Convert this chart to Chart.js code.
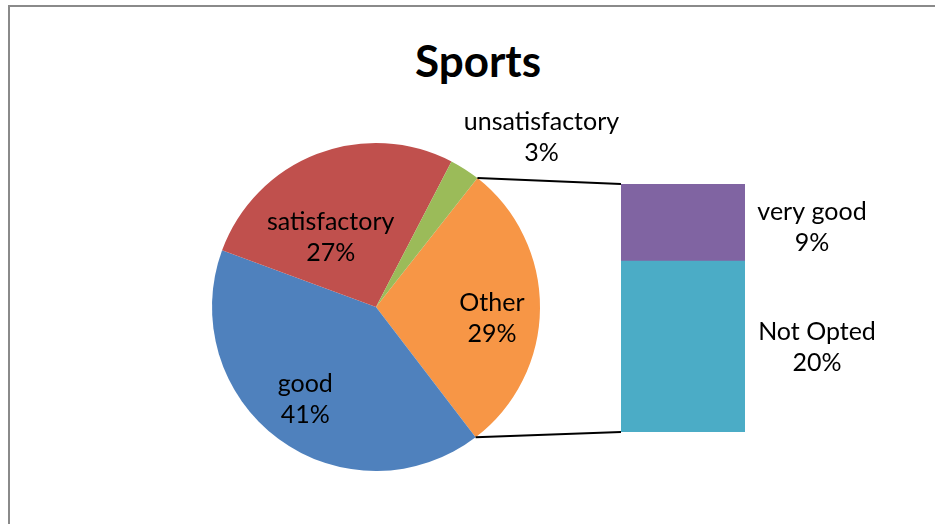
<!DOCTYPE html>
<html><head><meta charset="utf-8">
<script src="https://cdn.jsdelivr.net/npm/chart.js@4/dist/chart.umd.min.js"></script>
<style>
html,body{margin:0;padding:0;background:#fff;overflow:hidden;}
#wrap{position:relative;width:935px;height:524px;overflow:hidden;background:#fff;}
#frame{position:absolute;left:8px;top:5px;right:-20px;bottom:-20px;border-top:2px solid #8a8a8a;border-left:2px solid #8a8a8a;}
#title{position:absolute;left:0;width:956px;top:38px;text-align:center;font:bold 44px Lato, sans-serif;line-height:44px;color:#000;}
canvas{position:absolute;left:0;top:0;}
</style>
</head><body>
<div id="wrap">
  <div id="frame"></div>
  <div id="title">Sports</div>
  <canvas id="pie" width="935" height="524"></canvas>
  <canvas id="bar" width="935" height="524"></canvas>
</div>
<script>
// ---- data ----
const chartTitle = 'Sports';
const pieLabels = ['Other', 'good', 'satisfactory', 'unsatisfactory'];
const barLabels = ['Not Opted', 'very good'];
const barValues = [20, 9];
const pieValues = [29, 41, 27, 3];   // "Other" = sum of the bar values
const pieColors = ['#F79646', '#4F81BD', '#C0504D', '#9BBB59'];
const barColors = ['#4BACC6', '#8064A2'];

document.getElementById('title').textContent = chartTitle;
const LABEL_FONT = '25px Lato, sans-serif';

const pieLabelPlugin = {
  id: 'pieLabels',
  afterDatasetsDraw(chart, args, opts) {
    const ctx = chart.ctx;
    const meta = chart.getDatasetMeta(0);
    ctx.save();
    ctx.font = LABEL_FONT;
    ctx.fillStyle = '#000';
    ctx.textAlign = 'center';
    ctx.textBaseline = 'middle';
    meta.data.forEach((arc, i) => {
      const p = arc.getProps(['x', 'y', 'startAngle', 'endAngle', 'outerRadius'], true);
      const place = opts.place[i];
      const a = (p.startAngle + p.endAngle) / 2 + place.da * Math.PI / 180;
      const r = p.outerRadius * place.r;
      const cx = p.x + Math.cos(a) * r, cy = p.y + Math.sin(a) * r;
      const lh = opts.lineHeight;
      ctx.fillText(chart.data.labels[i], cx, cy - lh / 2);
      ctx.fillText(chart.data.datasets[0].data[i] + '%', cx, cy + lh / 2);
    });
    ctx.restore();
  }
};

const pieChart = new Chart(document.getElementById('pie'), {
  type: 'pie',
  data: {
    labels: pieLabels,
    datasets: [{ data: pieValues, backgroundColor: pieColors, borderWidth: 0, hoverBorderWidth: 0, offset: 0, hoverOffset: 0 }]
  },
  plugins: [pieLabelPlugin],
  options: {
    responsive: false, animation: false, events: [], devicePixelRatio: 1,
    rotation: 38.2,
    layout: { padding: { left: 212, right: 395, top: 143, bottom: 53 } },
    plugins: {
      legend: { display: false }, tooltip: { enabled: false }, title: { display: false },
      pieLabels: {
        lineHeight: 31,
        place: [ { r: 0.71, da: 5 }, { r: 0.71, da: 1 }, { r: 0.505, da: -12 }, { r: 1.445, da: 11.5 } ]
      }
    }
  }
});

const barPlugin = {
  id: 'barExtras',
  afterDatasetsDraw(chart, args, opts) {
    const ctx = chart.ctx;
    ctx.save();
    ctx.font = LABEL_FONT;
    ctx.fillStyle = '#000';
    ctx.textAlign = 'center';
    ctx.textBaseline = 'middle';
    chart.data.datasets.forEach((ds, di) => {
      const bar = chart.getDatasetMeta(di).data[0];
      const b = bar.getProps(['x', 'y', 'base', 'width'], true);
      const cx = b.x + b.width / 2 + opts.labelOffset[di];
      const cy = (b.y + b.base) / 2 + opts.labelDy[di];
      ctx.fillText(ds.label, cx, cy - opts.lineHeight / 2);
      ctx.fillText(ds.data[0] + '%', cx, cy + opts.lineHeight / 2);
    });
    // connector lines from the "Other" slice to the bar
    const arc = pieChart.getDatasetMeta(0).data[0].getProps(['x', 'y', 'startAngle', 'endAngle', 'outerRadius'], true);
    const bottomBar = chart.getDatasetMeta(0).data[0].getProps(['x', 'y', 'base', 'width'], true);
    const topBar = chart.getDatasetMeta(chart.data.datasets.length - 1).data[0].getProps(['x', 'y', 'base', 'width'], true);
    const left = topBar.x - topBar.width / 2;
    ctx.strokeStyle = '#000';
    ctx.lineWidth = 2;
    ctx.beginPath();
    ctx.moveTo(arc.x + Math.cos(arc.startAngle) * arc.outerRadius, arc.y + Math.sin(arc.startAngle) * arc.outerRadius);
    ctx.lineTo(left, topBar.y);
    ctx.moveTo(arc.x + Math.cos(arc.endAngle) * arc.outerRadius, arc.y + Math.sin(arc.endAngle) * arc.outerRadius);
    ctx.lineTo(left, bottomBar.base);
    ctx.stroke();
    ctx.restore();
  }
};

new Chart(document.getElementById('bar'), {
  type: 'bar',
  data: {
    labels: [''],
    datasets: barLabels.map((l, i) => ({
      label: l, data: [barValues[i]], backgroundColor: barColors[i], borderWidth: 0,
      categoryPercentage: 1, barPercentage: 1
    }))
  },
  plugins: [barPlugin],
  options: {
    responsive: false, animation: false, events: [], devicePixelRatio: 1,
    layout: { padding: { left: 621, right: 190, top: 184, bottom: 92 } },
    scales: {
      x: { stacked: true, display: false },
      y: { stacked: true, display: false, min: 0, max: barValues.reduce((a, b) => a + b, 0) }
    },
    plugins: {
      legend: { display: false }, tooltip: { enabled: false }, title: { display: false },
      barExtras: { lineHeight: 31, labelOffset: [72, 67], labelDy: [1, 5] }
    }
  }
});
</script>
</body></html>
